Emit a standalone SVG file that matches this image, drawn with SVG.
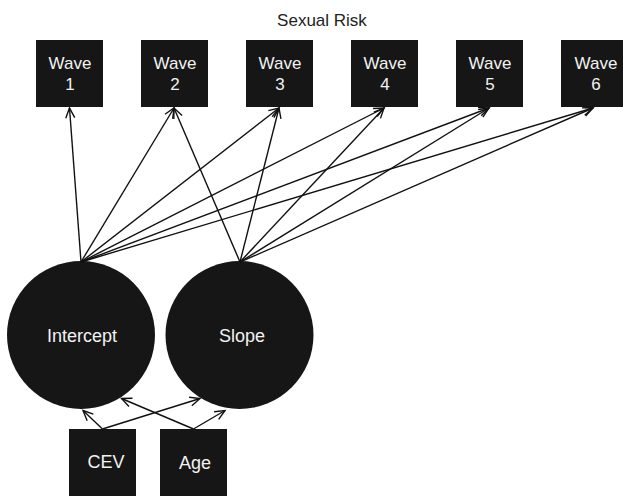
<svg xmlns="http://www.w3.org/2000/svg" width="623" height="496" viewBox="0 0 623 496">
<defs>
<marker id="arr" markerUnits="userSpaceOnUse" markerWidth="14" markerHeight="14" viewBox="-12 -7 14 14" refX="0" refY="0" orient="auto">
<path d="M-10,-4.5 L0,0 L-10,4.5" fill="none" stroke="#111" stroke-width="1.4"/>
</marker>
<style>
.box{fill:#161616}
.circ{fill:#161616}
.t{font-family:"Liberation Sans",Arial,sans-serif;fill:#f2f2f2;text-anchor:middle}
.w{font-size:17px}
.b{font-size:18px}
.title{font-family:"Liberation Sans",Arial,sans-serif;font-size:17px;fill:#222;text-anchor:middle}
.c{stroke:#111;stroke-width:1.4;fill:none;marker-end:url(#arr)}
</style>
</defs>
<rect width="623" height="496" fill="#fff"/>
<text class="title" x="322" y="26">Sexual Risk</text>
<g id="wave1"><rect class="box" x="36" y="40" width="67" height="67"/><text class="t w" x="70" y="69">Wave</text><text class="t w" x="70" y="90">1</text></g>
<g id="wave2"><rect class="box" x="141" y="40" width="67" height="67"/><text class="t w" x="175" y="69">Wave</text><text class="t w" x="175" y="90">2</text></g>
<g id="wave3"><rect class="box" x="246" y="40" width="67" height="67"/><text class="t w" x="280" y="69">Wave</text><text class="t w" x="280" y="90">3</text></g>
<g id="wave4"><rect class="box" x="351" y="40" width="67" height="67"/><text class="t w" x="385" y="69">Wave</text><text class="t w" x="385" y="90">4</text></g>
<g id="wave5"><rect class="box" x="456" y="40" width="67" height="67"/><text class="t w" x="490" y="69">Wave</text><text class="t w" x="490" y="90">5</text></g>
<g id="wave6"><rect class="box" x="561" y="40" width="67" height="67"/><text class="t w" x="596" y="69">Wave</text><text class="t w" x="596" y="90">6</text></g>
<g id="intercept"><circle class="circ" cx="81" cy="335" r="74"/><text class="t b" x="82" y="342">Intercept</text></g>
<g id="slope"><circle class="circ" cx="239.5" cy="335" r="74"/><text class="t b" x="242" y="342">Slope</text></g>
<g id="cev"><rect class="box" x="69" y="429" width="67" height="67"/><text class="t b" x="106" y="468">CEV</text></g>
<g id="age"><rect class="box" x="160" y="429" width="67" height="67"/><text class="t b" x="195" y="469">Age</text></g>
<g id="connectors">
<line class="c" x1="81" y1="262" x2="69.5" y2="108"/>
<line class="c" x1="81" y1="262" x2="174" y2="108"/>
<line class="c" x1="81" y1="262" x2="279" y2="108"/>
<line class="c" x1="81" y1="262" x2="384" y2="108"/>
<line class="c" x1="81" y1="262" x2="489" y2="108"/>
<line class="c" x1="81" y1="262" x2="593" y2="108"/>
<line class="c" x1="240" y1="262" x2="174" y2="108"/>
<line class="c" x1="240" y1="262" x2="279" y2="108"/>
<line class="c" x1="240" y1="262" x2="384" y2="108"/>
<line class="c" x1="240" y1="262" x2="489" y2="108"/>
<line class="c" x1="240" y1="262" x2="593" y2="108"/>
<line class="c" x1="102.5" y1="429" x2="83" y2="410.5"/>
<line class="c" x1="102.5" y1="429" x2="200" y2="398.5"/>
<line class="c" x1="193.5" y1="429" x2="121.5" y2="398.5"/>
<line class="c" x1="193.5" y1="429" x2="225" y2="410.5"/>
</g>
</svg>
